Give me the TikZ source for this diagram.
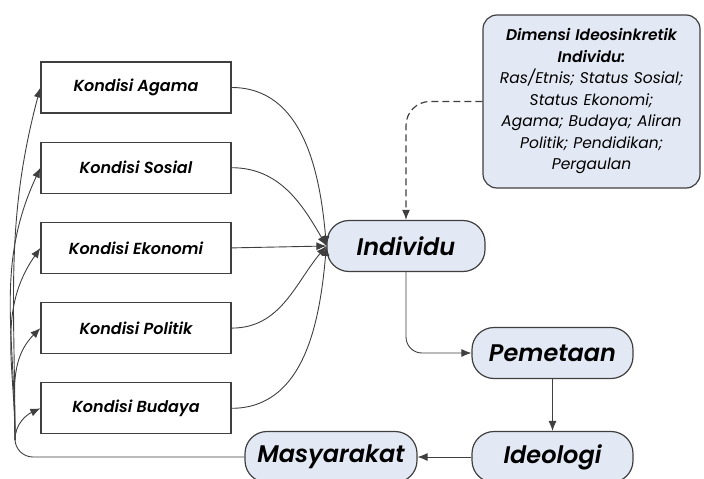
\documentclass[tikz,border=0pt]{standalone}
\usepackage{fontspec}
\setmainfont{Poppins}[BoldFont={Poppins SemiBold}, BoldItalicFont={Poppins SemiBold Italic}]
\usetikzlibrary{arrows.meta,positioning}

\definecolor{pillblue}{HTML}{E3E9F4}
\definecolor{edgegray}{HTML}{3F3F3F}

\begin{document}
\begin{tikzpicture}[
        x=1pt, y=-1pt,
        >={Latex[length=10pt,width=8pt]},
        node distance=28pt,
        link/.style={draw=edgegray, line width=0.9pt},
        kondisi/.style={draw=edgegray, line width=1.2pt, fill=white, minimum width=190pt, minimum height=51pt, inner sep=0pt, font=\fontsize{16}{18}\selectfont\bfseries\itshape},
        pill/.style={draw=edgegray, line width=1.2pt, fill=pillblue, rounded corners=22pt, minimum height=51pt, inner sep=0pt, font=\fontsize{24}{26}\selectfont\bfseries\itshape},
        dimbox/.style={draw=edgegray, line width=1.2pt, fill=pillblue, rounded corners=14pt, text width=205pt, minimum height=173pt, inner sep=6pt, align=center, font=\fontsize{15.5}{21.5}\selectfont\itshape}
    ]

    \useasboundingbox (0,0) rectangle (704,479);
    \clip (0,0) rectangle (704,479);

    % Nodes
    \node[kondisi] (agama) at (136,87.5) {Kondisi Agama};
    \node[kondisi, below=of agama] (sosial) {Kondisi Sosial};
    \node[kondisi, below=of sosial] (ekonomi) {Kondisi Ekonomi};
    \node[kondisi, below=of ekonomi] (politik) {Kondisi Politik};
    \node[kondisi, below=of politik] (budaya) {Kondisi Budaya};

    \node[pill, minimum width=158pt] (individu) at (406,246) {Individu};
    \node[pill, minimum width=161pt] (pemetaan) at (552.5,353) {Pemetaan};
    \node[pill, minimum width=161pt] (ideologi) at (552.5,457) {Ideologi};
    \node[pill, minimum width=172pt] (masyarakat) at (331,457) {Masyarakat};

    \node[dimbox] (dimensi) at (591.5,101.5) {{\bfseries Dimensi Ideosinkretik\\ Individu:}\\
        Ras/Etnis; Status Sosial;\\ Status Ekonomi;\\ Agama; Budaya; Aliran\\ Politik; Pendidikan;\\ Pergaulan};

    \coordinate (fan) at (15,440);

    % Edges
    \draw[->, link] (agama.east) to[out=0, in=95] (individu.west);
    \draw[->, link] (sosial.east) to[out=0, in=120] (individu.west);
    \draw[->, link] (ekonomi.east) -- (individu.west);
    \draw[->, link] (politik.east) to[out=0, in=230] (individu.west);
    \draw[->, link] (budaya.east) to[out=0, in=265] (individu.west);

    \draw[->, link, line width=1.2pt, dash pattern=on 7pt off 4pt, rounded corners=24pt] (dimensi.west) -| (individu.north);
    \draw[->, link, rounded corners=16pt] (individu.south) |- (pemetaan.west);
    \draw[->, link] (pemetaan) -- (ideologi);
    \draw[->, link] (ideologi) -- (masyarakat);

    \draw[link, rounded corners=18pt] (masyarakat.west) -| (fan);
    \foreach \kname/\ang in {agama/255, sosial/245, ekonomi/235, politik/225, budaya/205}
        \draw[->, link] (fan) to[out=90, in=\ang] (\kname.west);

\end{tikzpicture}
\end{document}
